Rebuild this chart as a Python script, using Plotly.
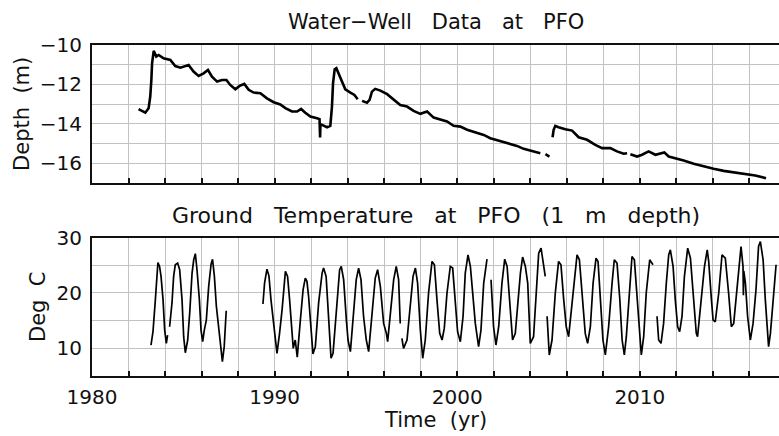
import plotly.graph_objects as go

# ---------------- data ----------------
depth_year = [1982.55, 1982.92, 1983.10, 1983.19, 1983.25, 1983.29, 1983.38, 1983.52, 1983.65, 1983.92,
              1984.29, 1984.56, 1984.84, 1985.02, 1985.29, 1985.56, 1985.84, 1986.11, 1986.35, 1986.57,
              1986.85, 1987.12, 1987.36, 1987.57, 1987.85, 1988.08, 1988.34, 1988.58, 1988.85, 1989.22,
              1989.58, 1989.95, 1990.31, 1990.59, 1990.95, 1991.23, 1991.45, 1991.68, 1991.96, 1992.32,
              1992.46, 1992.49, 1992.51, 1992.60, 1992.87, 1993.05, 1993.14, 1993.20, 1993.29, 1993.38,
              1993.50, 1993.69, 1993.87, 1994.15, 1994.37, 1994.55, None,
              1994.79, 1995.06, 1995.20, 1995.33, 1995.51, 1995.79, 1996.16, 1996.52, 1996.88, 1997.25,
              1997.61, 1997.98, 1998.35, 1998.71, 1999.07, 1999.44, 1999.80, 2000.17, 2000.54, 2001.08,
              2001.45, 2001.81, 2002.27, 2002.73, 2003.27, 2003.64, 2004.00, 2004.55, None,
              2004.83, 2005.05, None,
              2005.22, 2005.28, 2005.37, 2005.55, 2005.92, 2006.29, 2006.65, 2007.11, 2007.56, 2007.93,
              2008.38, 2008.75, 2009.11, 2009.30, None,
              2009.48, 2009.85, 2010.12, 2010.48, 2010.85, 2011.12, 2011.34, 2011.58, 2011.94, 2012.40,
              2012.95, 2013.49, 2014.04, 2014.59, 2015.14, 2015.68, 2016.32, 2016.91]
depth_m = [-13.26, -13.44, -13.21, -12.62, -11.78, -10.93, -10.30, -10.59, -10.51, -10.68,
           -10.76, -11.07, -11.15, -11.10, -11.02, -11.35, -11.57, -11.44, -11.27, -11.61,
           -11.86, -11.78, -11.78, -12.03, -12.25, -12.08, -11.98, -12.28, -12.42, -12.45,
           -12.71, -12.91, -13.02, -13.21, -13.38, -13.38, -13.25, -13.44, -13.64, -13.72,
           -13.77, -14.70, -14.03, -14.06, -14.18, -14.11, -13.13, -11.94, -11.23, -11.18,
           -11.44, -11.94, -12.25, -12.42, -12.54, -12.76, None,
           -12.84, -12.93, -12.79, -12.37, -12.23, -12.32, -12.50, -12.79, -13.05, -13.13,
           -13.35, -13.50, -13.38, -13.69, -13.79, -13.89, -14.11, -14.15, -14.31, -14.45,
           -14.57, -14.74, -14.86, -14.99, -15.13, -15.28, -15.38, -15.50, None,
           -15.55, -15.67, None,
           -14.69, -14.31, -14.11, -14.18, -14.28, -14.35, -14.69, -14.82, -15.08, -15.24,
           -15.24, -15.41, -15.53, -15.50, None,
           -15.55, -15.67, -15.58, -15.41, -15.58, -15.53, -15.46, -15.67, -15.75, -15.87,
           -16.04, -16.18, -16.29, -16.40, -16.48, -16.56, -16.63, -16.77]

temp_year = [1983.23, 1983.34, 1983.47, 1983.56, 1983.61, 1983.70, 1983.78, 1983.89, 1983.98, 1984.07, 1984.14, None,
             1984.25, 1984.38, 1984.47, 1984.56, 1984.69, 1984.80, 1984.93, 1985.02, 1985.11, 1985.24,
             1985.35, 1985.48, 1985.57, 1985.66, 1985.75, 1985.88, 1985.97, 1986.06, 1986.15, 1986.26,
             1986.39, 1986.52, 1986.60, 1986.70, 1986.81, 1986.93, 1987.06, 1987.14, 1987.24, 1987.35, None,
             1989.36, 1989.45, 1989.58, 1989.69, 1989.80, 1989.95, 1990.13, 1990.27, 1990.41, 1990.59,
             1990.71, 1990.82, 1991.02, 1991.13, 1991.24, 1991.41, 1991.56, 1991.68, 1991.77, 1991.86,
             1991.99, 1992.10, 1992.23, 1992.41, 1992.60, 1992.68, 1992.82, 1992.96, 1993.09, 1993.20,
             1993.38, 1993.56, 1993.65, 1993.78, 1993.93, 1994.02, 1994.15, 1994.33, 1994.47, 1994.60,
             1994.73, 1994.87, 1995.02, 1995.15, 1995.33, 1995.51, 1995.64, 1995.79, 1995.97, 1996.12,
             1996.19, 1996.34, 1996.52, 1996.66, 1996.79, 1996.88, None,
             1996.97, 1997.06, 1997.25, 1997.43, 1997.58, 1997.71, 1997.83, 1997.98, 1998.11, 1998.25,
             1998.43, 1998.62, 1998.75, 1998.89, 1999.04, 1999.17, 1999.29, 1999.44, 1999.62, 1999.75,
             1999.90, 2000.02, 2000.17, 2000.32, 2000.44, 2000.59, 2000.72, 2000.87, 2000.99, 2001.17,
             2001.30, 2001.45, 2001.63, None,
             2001.85, 2001.99, 2002.12, 2002.27, 2002.45, 2002.60, 2002.73, 2002.87, 2003.03, 2003.18,
             2003.27, 2003.46, 2003.58, 2003.73, 2003.86, 2004.00, 2004.18, 2004.33, 2004.46, 2004.59,
             2004.73, 2004.82, None,
             2004.92, 2005.04, 2005.19, 2005.37, 2005.55, 2005.68, 2005.83, 2005.97, 2006.10, 2006.38,
             2006.56, 2006.69, 2006.83, 2007.01, 2007.14, 2007.29, 2007.44, 2007.60, 2007.71, 2007.84,
             2007.98, 2008.11, 2008.29, 2008.48, 2008.60, 2008.75, 2008.90, 2009.03, 2009.15, 2009.26,
             2009.39, 2009.57, 2009.70, 2009.85, 2009.99, 2010.08, 2010.21, 2010.35, 2010.54, 2010.72, None,
             2010.94, 2011.03, 2011.16, 2011.30, 2011.45, 2011.58, 2011.67, 2011.82, 2011.94, 2012.07,
             2012.18, 2012.31, 2012.44, 2012.62, 2012.77, 2012.95, 2013.09, 2013.16, 2013.31, 2013.54,
             2013.69, 2013.77, 2013.92, 2014.01, 2014.13, 2014.32, 2014.50, 2014.68, 2014.86, 2015.01,
             2015.14, 2015.32, 2015.54, 2015.65, 2015.67, 2015.69, 2015.78, 2015.90, 2016.05, 2016.20,
             2016.36, 2016.50, 2016.60, 2016.75, 2016.87, 2017.05, 2017.15, 2017.33, 2017.46]
temp_c = [10.6, 13.0, 18.8, 23.0, 25.5, 24.8, 23.0, 18.8, 13.3, 10.9, 12.4, None,
          13.9, 18.2, 23.0, 25.1, 25.4, 24.2, 18.8, 12.1, 9.2, 11.5,
          16.4, 23.6, 26.0, 27.1, 24.2, 18.8, 13.3, 11.2, 13.3, 15.1,
          21.2, 25.2, 26.1, 23.1, 17.6, 13.9, 10.3, 7.6, 10.3, 16.8, None,
          18.0, 21.8, 24.3, 23.1, 18.8, 13.9, 9.1, 12.7, 17.0, 23.9,
          23.0, 18.8, 10.0, 11.5, 8.4, 15.1, 20.6, 22.7, 22.1, 19.4,
          12.7, 9.0, 10.3, 18.2, 23.6, 24.5, 23.0, 15.1, 8.2, 9.1,
          17.6, 24.2, 24.8, 22.4, 15.1, 11.5, 9.4, 16.4, 22.4, 24.5,
          22.4, 15.8, 11.5, 9.4, 15.8, 22.7, 24.2, 21.2, 14.5, 12.7,
          11.2, 15.8, 22.4, 24.8, 22.4, 14.5, None,
          11.8, 10.0, 11.5, 17.6, 23.0, 24.5, 21.8, 13.3, 8.2, 11.5,
          20.0, 25.7, 25.1, 18.8, 12.7, 11.5, 13.6, 20.0, 24.8, 24.5,
          18.0, 13.0, 11.2, 15.8, 23.6, 26.9, 24.8, 18.8, 14.5, 10.3,
          13.3, 21.8, 26.1, None,
          22.4, 13.9, 10.6, 13.9, 21.8, 26.1, 24.8, 18.2, 11.5, 12.7,
          16.4, 23.6, 26.5, 24.8, 21.8, 10.9, 12.1, 20.0, 27.2, 28.1,
          24.8, 23.0, None,
          15.8, 8.8, 11.5, 20.0, 25.7, 25.1, 18.8, 13.9, 12.1, 21.8,
          26.9, 26.0, 20.0, 12.7, 10.9, 13.9, 21.8, 26.3, 25.7, 18.8,
          11.5, 8.8, 13.9, 21.8, 26.0, 25.4, 19.0, 11.5, 8.8, 12.1,
          18.8, 26.6, 26.0, 18.8, 11.5, 8.8, 12.1, 20.0, 26.0, 25.1, None,
          15.8, 11.5, 10.9, 14.5, 21.8, 26.9, 27.8, 24.8, 18.8, 13.9,
          13.0, 15.8, 23.0, 28.1, 26.3, 18.8, 12.7, 12.1, 17.0, 24.8,
          27.8, 25.7, 18.8, 15.1, 14.8, 20.0, 26.9, 26.3, 20.0, 13.9,
          14.5, 20.6, 28.4, 24.8, 19.6, 24.0, 21.8, 15.8, 11.5, 14.5,
          20.6, 28.4, 29.3, 26.0, 18.8, 10.3, 12.7, 20.0, 25.1]

x_tick_vals = [1980, 1982, 1984, 1986, 1988, 1990, 1992, 1994, 1996, 1998, 2000,
               2002, 2004, 2006, 2008, 2010, 2012, 2014, 2016]
x_tick_text = ["1980", "", "", "", "", "1990", "", "", "", "", "2000",
               "", "", "", "", "2010", "", "", ""]
depth_tick_vals = [-17, -16, -15, -14, -13, -12, -11, -10]
depth_tick_text = ["", "\u221216", "", "\u221214", "", "\u221212", "", "\u221210"]
temp_tick_vals = [5, 10, 15, 20, 25, 30]
temp_tick_text = ["", "10", "", "20", "", "30"]

# ---------------- figure ----------------
FONT = "DejaVu Sans"
INK = "#111111"
GRID = "#c2c2c2"


def spaced(words, n=3):
    return ("\u00a0" * n).join(words)


fig = go.Figure()
fig.add_trace(go.Scatter(x=depth_year, y=depth_m, mode="lines",
                         line=dict(color="black", width=2.6), connectgaps=False,
                         xaxis="x", yaxis="y", showlegend=False))
fig.add_trace(go.Scatter(x=temp_year, y=temp_c, mode="lines",
                         line=dict(color="black", width=1.7), connectgaps=False,
                         xaxis="x2", yaxis="y2", showlegend=False))

xcommon = dict(range=[1980, 2017.62], tickmode="array", tickvals=x_tick_vals,
               showgrid=True, gridcolor=GRID, gridwidth=1.2, zeroline=False,
               showline=True, linecolor=INK, linewidth=2, mirror=True,
               ticks="inside", ticklen=5, tickwidth=1.5, tickcolor=INK,
               tickfont=dict(family=FONT, size=20, color=INK), ticklabelstandoff=2)
ycommon = dict(tickmode="array", showgrid=True, gridcolor=GRID, gridwidth=1.2,
               zeroline=False, showline=True, linecolor=INK, linewidth=2,
               ticks="", tickfont=dict(family=FONT, size=20, color=INK),
               ticklabelstandoff=4)

title_font = dict(family=FONT, size=21, color=INK)

fig.update_layout(
    width=779, height=436,
    margin=dict(l=92, r=0, t=45, b=60),
    paper_bgcolor="white", plot_bgcolor="white",
    xaxis=dict(**xcommon, domain=[0, 1], anchor="y", ticktext=[""] * len(x_tick_vals)),
    yaxis=dict(**ycommon, domain=[0.584, 1], anchor="x", range=[-17, -10],
               tickvals=depth_tick_vals, ticktext=depth_tick_text),
    xaxis2=dict(**xcommon, domain=[0, 1], anchor="y2", ticktext=x_tick_text),
    yaxis2=dict(**ycommon, domain=[0, 0.418], anchor="x2", range=[5, 30],
                tickvals=temp_tick_vals, ticktext=temp_tick_text),
    annotations=[
        dict(text=spaced(["Water\u2212Well", "Data", "at", "PFO"]), x=0.5, y=1.0695,
             xref="paper", yref="paper", showarrow=False, xanchor="center", yanchor="middle",
             font=title_font),
        dict(text=spaced(["Ground", "Temperature", "at", "PFO", "(1", "m", "depth)"]),
             x=0.5, y=0.4864, xref="paper", yref="paper", showarrow=False,
             xanchor="center", yanchor="middle", font=dict(family=FONT, size=22, color=INK)),
        dict(text=spaced(["Time", "(yr)"], 2), x=0.5, y=-0.133, xref="paper", yref="paper",
             showarrow=False, xanchor="center", yanchor="middle", font=title_font),
        dict(text=spaced(["Depth", "(m)"], 2), x=-0.1019, y=0.7918, xref="paper", yref="paper",
             showarrow=False, xanchor="center", yanchor="middle", textangle=-90,
             font=title_font),
        dict(text=spaced(["Deg", "C"], 2), x=-0.0786, y=0.2085, xref="paper", yref="paper",
             showarrow=False, xanchor="center", yanchor="middle", textangle=-90,
             font=title_font),
    ],
)

fig.write_html("out.html", config={"displayModeBar": False},
               post_script="document.body.style.margin='0';document.body.style.padding='0';")
